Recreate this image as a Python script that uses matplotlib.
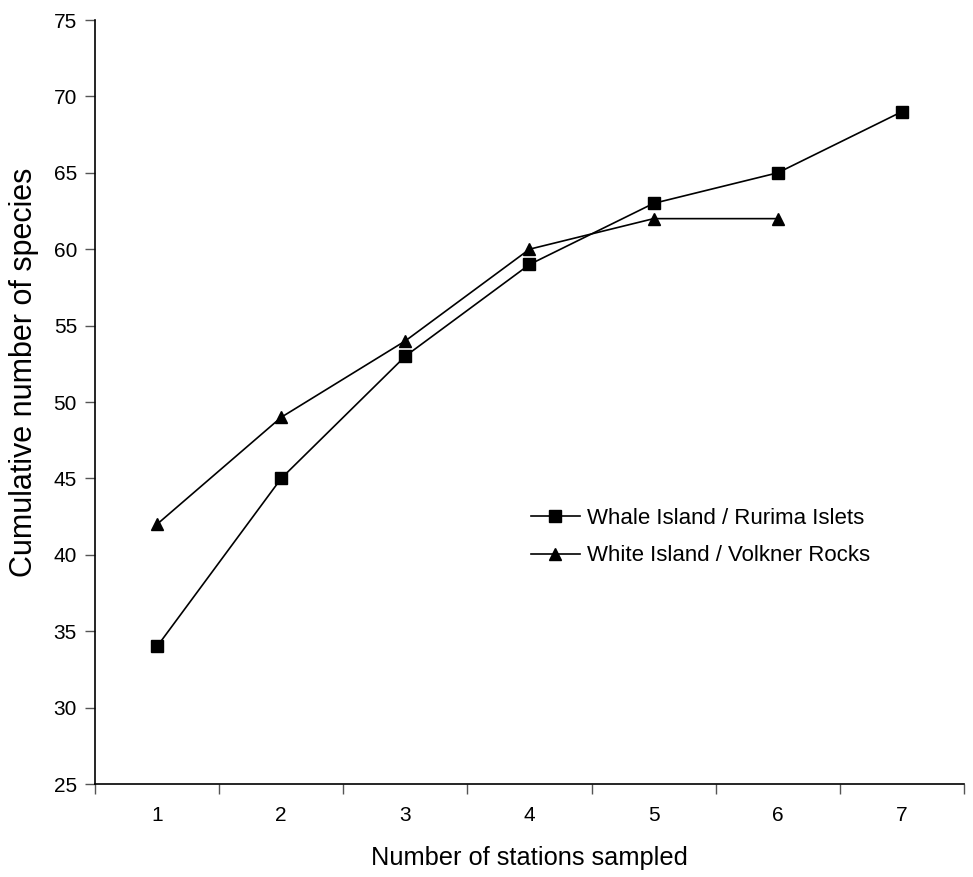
import matplotlib
matplotlib.use("Agg")
import matplotlib.pyplot as plt
import numpy as np

plt.rcParams['font.family'] = ['Liberation Sans', 'DejaVu Sans']

stations_whale = [1, 2, 3, 4, 5, 6, 7]
whale = [34, 45, 53, 59, 63, 65, 69]
stations_white = [1, 2, 3, 4, 5, 6]
white = [42, 49, 54, 60, 62, 62]
x_labels = ["1", "2", "3", "4", "5", "6", "7"]
y_ticks = [25, 30, 35, 40, 45, 50, 55, 60, 65, 70, 75]

fig = plt.figure(figsize=(9.73, 8.77), dpi=100)
ax = fig.add_axes([95/973, 1-784/877, (964-95)/973, (784-20)/877])

ax.plot(stations_whale, whale, color='black', lw=1.2, marker='s', markersize=8.5,
        label='Whale Island / Rurima Islets')
ax.plot(stations_white, white, color='black', lw=1.2, marker='^', markersize=9,
        label='White Island / Volkner Rocks')

ax.set_xlim(0.5, 7.5)
ax.set_ylim(25, 75)
ax.set_yticks(y_ticks)
ax.set_xticks(np.arange(0.5, 8.0, 1.0))
ax.set_xticklabels([])
ax.set_xticks(np.arange(1, 8), minor=True)
ax.set_xticklabels(x_labels, minor=True)
ax.tick_params(axis='x', which='major', direction='out', length=7, width=1, color='#555555')
ax.tick_params(axis='x', which='minor', length=0, pad=16, labelsize=15)
ax.tick_params(axis='y', direction='out', length=7, width=1, color='#555555', labelsize=15, pad=6)

for s in ['top', 'right']:
    ax.spines[s].set_visible(False)
for s in ['left', 'bottom']:
    ax.spines[s].set_linewidth(1.2)

ax.set_xlabel('Number of stations sampled', fontsize=18.3, labelpad=15)
ax.set_ylabel('Cumulative number of species', fontsize=22)
ax.yaxis.set_label_coords(-0.064, 0.539)

ax.legend(loc='center left', bbox_to_anchor=(0.4785, 0.323), frameon=False, fontsize=16,
          handlelength=2.2, handletextpad=0.33, labelspacing=0.74)

fig.savefig('out.png', dpi=100)
